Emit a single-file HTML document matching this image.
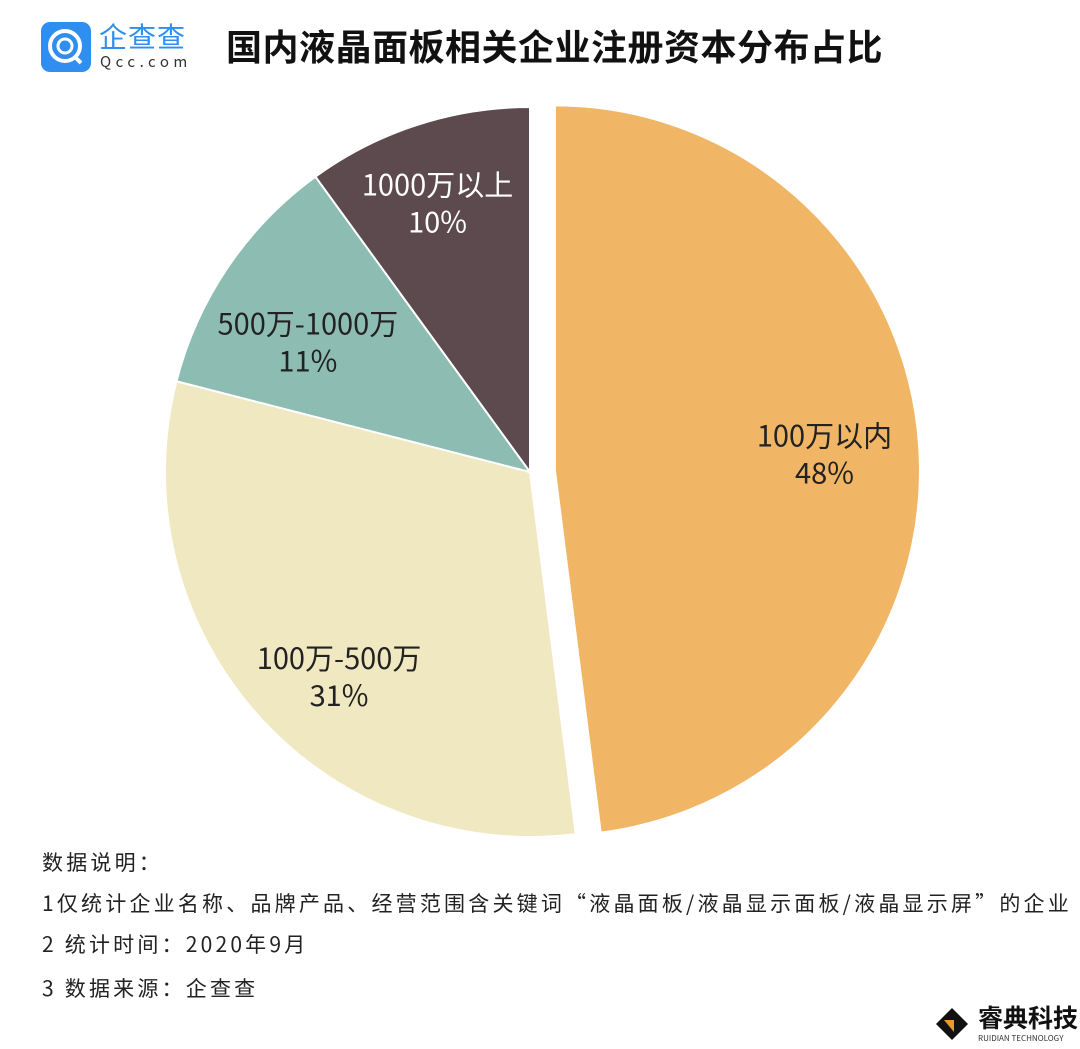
<!DOCTYPE html>
<html><head><meta charset="utf-8"><style>
body{margin:0;width:1080px;height:1049px;background:#fff;font-family:"Noto Sans CJK SC","Liberation Sans",sans-serif;position:relative;overflow:hidden}
.abs{position:absolute}
.note{position:absolute;left:42px;font-size:21px;color:#222;white-space:nowrap;letter-spacing:3.2px;line-height:28px}
</style></head><body>
<div class="abs" style="left:41px;top:22px;width:50px;height:50px;border-radius:9px;background:#2f8ef0">
<svg width="50" height="50"><circle cx="24" cy="24" r="15" fill="none" stroke="#fff" stroke-width="4"/><circle cx="24" cy="24" r="7" fill="none" stroke="#fff" stroke-width="3"/><line x1="33" y1="34" x2="40" y2="41" stroke="#fff" stroke-width="4"/></svg></div>
<div class="abs" style="left:99px;top:16px;font-size:28px;color:#2f8ef0;letter-spacing:1px">企查查</div>
<div class="abs" style="left:100px;top:52px;font-size:15px;color:#333;letter-spacing:4.5px;line-height:20px">Qcc.com</div>
<div class="abs" style="left:226px;top:20px;font-size:36px;font-weight:bold;color:#111;letter-spacing:0.5px;line-height:50px">国内液晶面板相关企业注册资本分布占比</div>
<svg class="abs" style="left:0;top:0" width="1080" height="860" id="pie"></svg>
<div class="note" style="top:848px">数据说明：</div>
<div class="note" style="top:889px">1仅统计企业名称、品牌产品、经营范围含关键词“液晶面板/液晶显示面板/液晶显示屏”的企业</div>
<div class="note" style="top:930px">2 统计时间：2020年9月</div>
<div class="note" style="top:974px">3 数据来源：企查查</div>
<svg class="abs" style="left:934px;top:1006px" width="40" height="36"><polygon points="18,2 34,18 18,34 2,18" fill="#111"/><polygon points="10,14 20,14 20,26" fill="#e89a2c"/></svg>
<div class="abs" style="left:978px;top:1000px;font-size:25px;font-weight:bold;color:#111;line-height:34px">睿典科技</div>
<div class="abs" style="left:978px;top:1034px;font-size:8px;color:#333;line-height:10px">RUIDIAN TECHNOLOGY</div>
<script>
const categories=["100万以内","100万-500万","500万-1000万","1000万以上"];
const values=[48,31,11,10];
const colors=["#F0B665","#F0E8C0","#8DBDB2","#5C4A4F"];
const textColors=["#222","#222","#222","#fff"];
const explode=[25,0,0,0];
const labelR=[270,280,257,284];
const labelShift=[0.2,-5.6,-4,-1];
const cx=530,cy=472,R=365;
const svg=document.getElementById('pie');
const NS="http://www.w3.org/2000/svg";
const total=values.reduce((a,b)=>a+b,0);
function pt(a,r,ox,oy){return [ox+r*Math.sin(a),oy-r*Math.cos(a)];}
let acc=0;
values.forEach((v,i)=>{
  const a0=acc/total*2*Math.PI,a1=(acc+v)/total*2*Math.PI;acc+=v;
  const mid=(a0+a1)/2;
  const ox=cx+explode[i]*Math.sin(mid),oy=cy-explode[i]*Math.cos(mid);
  const p0=pt(a0,R,ox,oy),p1=pt(a1,R,ox,oy);
  const large=(a1-a0)>Math.PI?1:0;
  const p=document.createElementNS(NS,'path');
  p.setAttribute('d',`M${ox},${oy}L${p0[0]},${p0[1]}A${R},${R} 0 ${large} 1 ${p1[0]},${p1[1]}Z`);
  p.setAttribute('fill',colors[i]);p.setAttribute('stroke','#fff');p.setAttribute('stroke-width','2');
  
  
  svg.appendChild(p);
  const lp=pt(mid+labelShift[i]*Math.PI/180,labelR[i],ox,oy);
  [categories[i],v+'%'].forEach((s,k)=>{
    const t=document.createElementNS(NS,'text');
    t.setAttribute('x',lp[0]);t.setAttribute('y',lp[1]+(k===0?-8:29));
    t.setAttribute('text-anchor','middle');t.setAttribute('font-size','29');t.setAttribute('fill',textColors[i]);
    t.setAttribute('font-family','"Noto Sans CJK SC","Liberation Sans",sans-serif');
    t.textContent=s;
    
    
    svg.appendChild(t);
  });
});
</script>
</body></html>
